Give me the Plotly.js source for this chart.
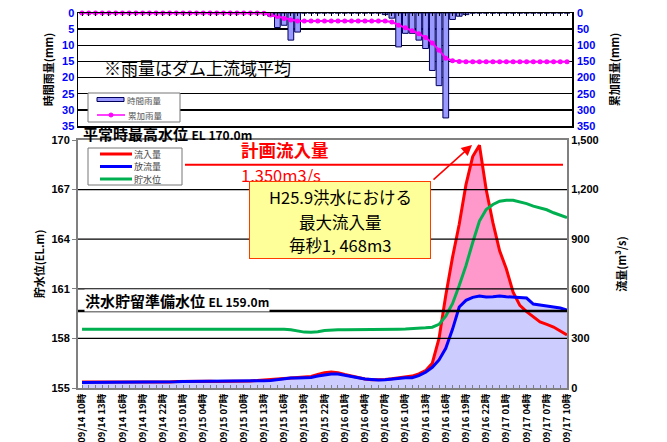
<!DOCTYPE html>
<html><head><meta charset="utf-8">
<script src="https://cdn.plot.ly/plotly-3.0.1.min.js"></script>
<style>html,body{margin:0;padding:0;background:#fff}#c{width:667px;height:442px}</style>
</head><body><div id="c"></div>
<script>
const times = ['09/14 10時','09/14 11時','09/14 12時','09/14 13時','09/14 14時','09/14 15時','09/14 16時','09/14 17時','09/14 18時','09/14 19時','09/14 20時','09/14 21時','09/14 22時','09/14 23時',
'09/15 00時','09/15 01時','09/15 02時','09/15 03時','09/15 04時','09/15 05時','09/15 06時','09/15 07時','09/15 08時','09/15 09時','09/15 10時','09/15 11時','09/15 12時','09/15 13時','09/15 14時','09/15 15時','09/15 16時','09/15 17時','09/15 18時','09/15 19時','09/15 20時','09/15 21時','09/15 22時','09/15 23時',
'09/16 00時','09/16 01時','09/16 02時','09/16 03時','09/16 04時','09/16 05時','09/16 06時','09/16 07時','09/16 08時','09/16 09時','09/16 10時','09/16 11時','09/16 12時','09/16 13時','09/16 14時','09/16 15時','09/16 16時','09/16 17時','09/16 18時','09/16 19時','09/16 20時','09/16 21時','09/16 22時','09/16 23時',
'09/17 00時','09/17 01時','09/17 02時','09/17 03時','09/17 04時','09/17 05時','09/17 06時','09/17 07時','09/17 08時','09/17 09時','09/17 10時'];
const tickLabels = ['09/14 10時','09/14 13時','09/14 16時','09/14 19時','09/14 22時','09/15 01時','09/15 04時','09/15 07時','09/15 10時','09/15 13時','09/15 16時','09/15 19時','09/15 22時','09/16 01時','09/16 04時','09/16 07時','09/16 10時','09/16 13時','09/16 16時','09/16 19時','09/16 22時','09/17 01時','09/17 04時','09/17 07時','09/17 10時'];

const inflow = [36,36,35,36,36,36,36,36,35,35,36,37,37,37,
40,41,41,41,41,41,40,40,40,41,42,43,
45,48,52,55,
58,60,61,63,70,82,92,97,92,82,72,62,55,50,50,52,56,62,66,72,
85,105,150,300,560,790,990,1230,1400,1468,1200,1000,830,720,580,500,462,430,400,385,369,345,320];
const outflow = [34,34,34,35,35,35,35,35,35,35,35,36,36,36,
38,40,40,40,40,40,40,40,40,40,40,40,
42,44,46,50,
58,60,60,61,64,72,80,85,84,78,70,62,55,50,48,50,55,60,62,62,
75,95,125,170,240,355,490,530,548,556,550,552,556,552,550,548,544,508,500,496,490,484,472];
const level = [158.55,158.55,158.55,158.55,158.55,158.55,158.55,158.55,158.55,158.55,158.55,158.55,158.55,158.55,
158.55,158.55,158.55,158.55,158.55,158.55,158.55,158.55,158.55,158.55,158.55,158.55,158.55,158.55,
158.57,158.57,158.56,158.52,
158.45,158.38,158.37,158.40,158.48,
158.52,158.52,158.52,158.52,158.52,158.52,158.52,
158.55,158.56,158.56,158.56,158.57,
158.58,158.60,158.64,158.68,158.85,159.35,160.1,161.2,162.4,163.8,
165.1,165.8,166.1,166.3,166.35,166.35,166.25,166.15,166.0,165.9,165.78,165.6,165.45,165.3];
const rainHourly = [0,0,0,0,0,0,0,0,0,0,0,0,0,0,0,0,0,0,0,0,0,0,0,0,0,0,0,0,
1,4.5,3.8,8.4,5.9,
0,0,0,0,0,0,0,0,0,0,0,0,
0.5,1.6,10.5,6.3,6.3,8.4,11,17.8,22.5,32.5,2,1,0.5,
0,0,0,0,0,0,0,0,0,0,0,0,0,0,0];
const rainCum = [0,0,0,0,0,0,0,0,0,0,0,0,0,0,0,0,0,0,0,0,0,0,0,0,0,0,0,
1,6,11,17,22,25,
25,25,25,25,25,25,25,25,25,25,25,25,25,
28,38,46,55,64,76,93,115,140,148,150,
151,151,151,151,151,151,151,151,151,151,151,151,151,151,151,151];

const planInflow = 1350;
const flowTicks = [0,300,600,900,1200,1500];
const levelTicks = [155,158,161,164,167,170];

const JP = '"Noto Sans CJK JP", sans-serif';
const NUM = '"Liberation Sans", Arial, sans-serif';
const px = x => (x - 78) / 494;
const py = y => (388 - y) / 375;
const xDomB = 489 / 494;

const traces = [
  {x: times, y: inflow, xaxis:'x', yaxis:'y', type:'scatter', mode:'lines', fill:'tozeroy', fillcolor:'rgb(255,153,204)', line:{width:0}, showlegend:false},
  {x: times, y: outflow, xaxis:'x', yaxis:'y', type:'scatter', mode:'lines', fill:'tozeroy', fillcolor:'rgb(204,204,255)', line:{width:0}, showlegend:false},
  {x: times, y: inflow, name:'流入量', xaxis:'x', yaxis:'y', type:'scatter', mode:'lines', line:{color:'rgb(255,0,0)', width:3}, showlegend:false},
  {x: times, y: outflow, name:'放流量', xaxis:'x', yaxis:'y', type:'scatter', mode:'lines', line:{color:'rgb(0,0,255)', width:3}, showlegend:false},
  {x: times, y: level, name:'貯水位', xaxis:'x', yaxis:'y2', type:'scatter', mode:'lines', line:{color:'rgb(0,176,80)', width:3}, showlegend:false},
  {x: times, y: rainHourly, name:'時間雨量', xaxis:'x2', yaxis:'y3', type:'bar', width:0.85, marker:{color:'rgb(153,153,255)', line:{color:'rgb(0,0,90)', width:1}}, showlegend:false},
  {x: times, y: rainCum, name:'累加雨量', xaxis:'x2', yaxis:'y4', type:'scatter', mode:'lines+markers', cliponaxis:false, line:{color:'rgb(255,0,255)', width:2}, marker:{color:'rgb(255,0,255)', size:5}, showlegend:false}
];

const shapes = [];
[300,600,900,1200].forEach(v => shapes.push({type:'line', xref:'paper', yref:'y', x0:0, x1:xDomB, y0:v, y1:v, line:{color:'#000', width:1.3}, layer:'above'}));
shapes.push({type:'line', xref:'paper', yref:'paper', x0:0, x1:xDomB, y0:py(311), y1:py(311), line:{color:'#000', width:2.5}, layer:'above'});
shapes.push({type:'line', xref:'paper', yref:'y', x0:px(185), x1:px(563), y0:planInflow, y1:planInflow, line:{color:'rgb(255,0,0)', width:2}, layer:'above'});
shapes.push({type:'rect', xref:'paper', yref:'paper', x0:px(88), x1:px(180), y0:py(122), y1:py(93), fillcolor:'#fff', line:{color:'#777', width:1}, layer:'above'});
shapes.push({type:'rect', xref:'paper', yref:'paper', x0:px(97), x1:px(124), y0:py(101.5), y1:py(97.5), fillcolor:'rgb(153,153,255)', line:{color:'rgb(0,0,90)', width:1}, layer:'above'});
shapes.push({type:'line', xref:'paper', yref:'paper', x0:px(97), x1:px(125), y0:py(115), y1:py(115), line:{color:'rgb(255,0,255)', width:1.5}, layer:'above'});
shapes.push({type:'circle', xref:'paper', yref:'paper', x0:px(109), x1:px(113), y0:py(117), y1:py(113), fillcolor:'rgb(255,0,255)', line:{color:'rgb(255,0,255)', width:1}, layer:'above'});
shapes.push({type:'rect', xref:'paper', yref:'paper', x0:px(88), x1:px(182), y0:py(185), y1:py(148), fillcolor:'#fff', line:{color:'#777', width:1}, layer:'above'});
[['rgb(255,0,0)',154],['rgb(0,0,255)',166.5],['rgb(0,176,80)',179]].forEach(([c,y]) => shapes.push({type:'line', xref:'paper', yref:'paper', x0:px(100), x1:px(132), y0:py(y), y1:py(y), line:{color:c, width:3}, layer:'above'}));

const ann = (text, x, y, opts) => Object.assign({text, xref:'paper', yref:'paper', x:px(x), y:py(y), showarrow:false, xanchor:'left', yanchor:'middle', borderpad:0, font:{family:JP, size:12, color:'#000'}}, opts||{});
const boxFont = {family:JP, size:16.5, color:'#000'};

const annotations = [
  ann('時間雨量', 126, 100, {font:{family:JP, size:8.5, color:'#555'}}),
  ann('累加雨量', 127, 115, {font:{family:JP, size:8.5, color:'#555'}}),
  ann('流入量', 133, 154, {font:{family:JP, size:9, color:'#444'}}),
  ann('放流量', 133, 166.5, {font:{family:JP, size:9, color:'#444'}}),
  ann('貯水位', 133, 179, {font:{family:JP, size:9, color:'#444'}}),
  ann('※雨量はダム上流域平均', 103, 68, {font:{family:JP, size:17, color:'#000'}}),
  ann('<b>平常時最高水位</b> <b><span style="font-size:12px">EL 170.0m</span></b>', 82, 133, {font:{family:JP, size:15, color:'#000'}}),
  ann('<b>洪水貯留準備水位</b> <b><span style="font-size:12px">EL 159.0m</span></b>', 84, 300, {font:{family:JP, size:15, color:'#000'}, bgcolor:'#fff'}),
  ann('<b>計画流入量</b>', 240, 149.5, {font:{family:JP, size:17.5, color:'rgb(255,0,0)'}}),
  ann('1,350m3/s', 240, 174.5, {font:{family:JP, size:16.5, color:'rgb(255,0,0)'}}),
  ann(' ', 340, 219.5, {xanchor:'center', width:180, height:76, bgcolor:'rgb(255,255,153)', bordercolor:'rgb(255,60,0)', borderwidth:1, borderpad:0}),
  ann('H25.9洪水における', 340, 197, {xanchor:'center', font:boxFont}),
  ann('最大流入量', 340, 221.5, {xanchor:'center', font:boxFont}),
  ann('毎秒1, 468m3', 340, 245, {xanchor:'center', font:boxFont}),
  {text:'', xref:'paper', yref:'paper', x:px(472), y:py(145), ax:-40, ay:36, showarrow:true, arrowhead:2, arrowsize:1.4, arrowwidth:1.5, arrowcolor:'rgb(255,0,0)'}
];

const axisLine = {showline:true, linecolor:'#808080', linewidth:2};
const layout = {
  width:667, height:442, margin:{l:78, r:95, t:13, b:54}, paper_bgcolor:'#fff', plot_bgcolor:'rgba(0,0,0,0)',
  showlegend:false,
  xaxis: Object.assign({domain:[0,xDomB], anchor:'y', type:'category', categoryarray:times, range:[-0.6,72], tickmode:'array', tickvals:times, ticktext:times.map(t => tickLabels.includes(t) ? t : ''), tickangle:-90, ticks:'inside', ticklen:3, tickcolor:'#808080', tickfont:{family:JP, size:9.5, color:'#000', weight:'bold'}, showgrid:false, mirror:true, automargin:false, fixedrange:true}, axisLine),
  yaxis: Object.assign({domain:[0,(388-140)/375], anchor:'x', side:'right', range:[0,1500], tickmode:'array', tickvals:flowTicks, tickformat:',d', ticks:'', tickfont:{family:NUM, size:11, color:'#000', weight:'bold'}, showgrid:false, zeroline:false, mirror:true, automargin:false,
    title:{text:'流量(m³/s)', font:{family:JP, size:11, color:'#000', weight:'bold'}, standoff:21}}, axisLine),
  yaxis2: Object.assign({overlaying:'y', anchor:'x', side:'left', range:[155,170], tickmode:'array', tickvals:levelTicks, ticks:'outside', ticklen:4, tickcolor:'#808080', tickfont:{family:NUM, size:11, color:'#000', weight:'bold'}, showgrid:false, zeroline:false, automargin:false,
    title:{text:'貯水位(EL.m)', font:{family:JP, size:11, color:'#000', weight:'bold'}, standoff:5}}, axisLine),
  xaxis2: {domain:[0,1], anchor:'y3', type:'category', categoryarray:times, range:[-0.6,72.74], side:'top', tickmode:'array', tickvals:times, showticklabels:false, ticks:'inside', ticklen:3, tickcolor:'#000', showline:true, linecolor:'#000', linewidth:1.5, mirror:true, showgrid:false, automargin:false, fixedrange:true},
  yaxis3: {domain:[(388-126)/375,1], anchor:'x2', range:[35,0], dtick:5, tickfont:{family:NUM, size:11, color:'rgb(0,0,255)', weight:'bold'}, showgrid:true, gridcolor:'#000', gridwidth:1.3, showline:true, linecolor:'#000', linewidth:1.5, mirror:true, zeroline:false, ticks:'', automargin:false,
    title:{text:'時間雨量(mm)', font:{family:JP, size:11, color:'#000', weight:'bold'}, standoff:6}},
  yaxis4: {overlaying:'y3', anchor:'x2', side:'right', range:[350,0], dtick:50, tickfont:{family:NUM, size:11, color:'rgb(0,0,255)', weight:'bold'}, showgrid:false, zeroline:false, ticks:'', showline:false, automargin:false, ticklabelstandoff:4,
    title:{text:'累加雨量(mm)', font:{family:JP, size:11, color:'#000', weight:'bold'}, standoff:16}},
  shapes, annotations
};
Plotly.newPlot('c', traces, layout, {staticPlot:true, displayModeBar:false});
</script></body></html>
